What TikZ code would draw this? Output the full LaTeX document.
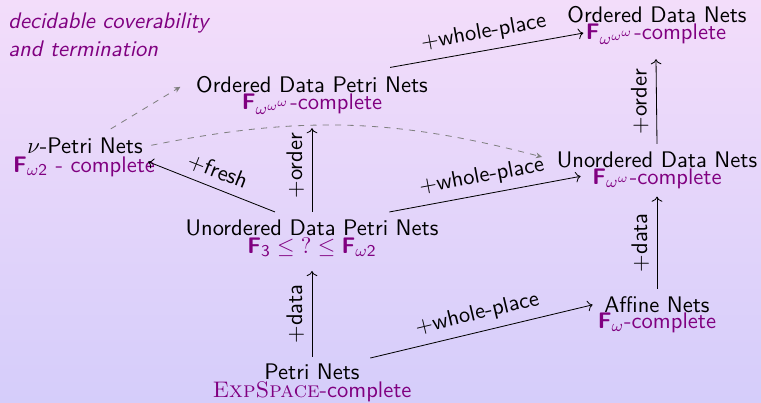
\documentclass[tikz,border=0pt,11pt]{standalone}
\usetikzlibrary{arrows.meta}
\definecolor{alertc}{RGB}{128,0,128}
\definecolor{bgtop}{RGB}{243,221,250}
\definecolor{bgbot}{RGB}{213,205,250}
\begin{document}
\begin{tikzpicture}[x=0.486pt, y=-0.486pt,
  every node/.style={font=\sffamily, inner sep=1pt},
  title/.style={anchor=base, text=black},
  cplx/.style={anchor=base, text=alertc},
  conn/.style={->, black},
  dconn/.style={-{Stealth[length=3pt,width=2.8pt]}, gray, dashed},
  lbl/.style={midway, above, sloped, inner sep=3.67pt},
  vlbl/.style={midway, anchor=south, rotate=90, inner sep=3.67pt}]
\shade[top color=bgtop, bottom color=bgbot] (0,0) rectangle (761,402);
\useasboundingbox (0,0) rectangle (761,402);

\node[anchor=north west, align=left, text=alertc, font=\sffamily\itshape, inner sep=0pt] (dec) at (8,12) {decidable coverability\\and termination};

\node[title] (odpnT) at (312,92) {Ordered Data Petri Nets};
\node[cplx] (odpnC) at (312,109) {\textbf{F}$_{\omega^{\omega^{\omega}}}$-complete};
\node[title] (odnT) at (657,22) {Ordered Data Nets};
\node[cplx] (odnC) at (656,39) {\textbf{F}$_{\omega^{\omega^{\omega}}}$-complete};
\node[title] (nuT) at (85,153) {$\nu$-Petri Nets};
\node[cplx] (nuC) at (84,172) {\textbf{F}$_{\omega\mathsf{2}}$ - complete};
\node[title] (udnT) at (657,167) {Unordered Data Nets};
\node[cplx] (udnC) at (657,184) {\textbf{F}$_{\omega^{\omega}}$-complete};
\node[title] (udpnT) at (312,235) {Unordered Data Petri Nets};
\node[cplx] (udpnC) at (312,253) {$\textbf{F}_{\mathsf{3}}\leq\mathsf{?}\leq\textbf{F}_{\omega\mathsf{2}}$};
\node[title] (affT) at (657,312) {Affine Nets};
\node[cplx] (affC) at (657,328) {\textbf{F}$_{\omega}$-complete};
\node[title] (pnT) at (312,379) {Petri Nets};
\node[cplx] (pnC) at (312,397) {\textrm{\textsc{ExpSpace}}-complete};

\draw[conn] ([yshift=1.9pt]pnT.north) -- node[vlbl]{$+$data} ([yshift=-5.9pt]udpnC.south);
\draw[conn] ([yshift=2.4pt]affT.north) -- node[vlbl]{$+$data} ([yshift=-2.8pt]udnC.south);
\draw[conn] ([yshift=2.4pt]udnT.north) -- node[vlbl]{$+$order} ([yshift=-5.8pt]odnC.south);
\draw[conn] ([yshift=2.4pt]udpnT.north) -- node[vlbl,pos=0.55]{$+$order} ([yshift=-5.3pt]odpnC.south);
\draw[conn] ([xshift=4pt,yshift=1.4pt]pnT.north east) -- node[lbl]{$+$whole-place} ([xshift=-4.5pt,yshift=-0.3pt]affT.west);
\draw[conn] ([xshift=-25pt,yshift=2.4pt]udpnT.north east) -- node[lbl]{$+$whole-place} ([xshift=-4.5pt,yshift=1pt]udnC.west);
\draw[conn] ([xshift=-19.5pt,yshift=2.9pt]odpnT.north east) -- node[lbl]{$+$whole-place} ([yshift=0.5pt]odnC.west);
\draw[conn] ([xshift=-18pt,yshift=2.4pt]udpnT.north) -- node[lbl]{$+$fresh} ([xshift=-4.5pt,yshift=2.25pt]nuC.east);
\draw[dconn] ([xshift=12.5pt,yshift=2.9pt]nuT.north) -- ([xshift=-6.5pt,yshift=-1.3pt]odpnT.west);
\draw[dconn] ([xshift=3pt]nuT.east) to[bend left=13] ([xshift=-6pt,yshift=1.2pt]udnT.west);
\end{tikzpicture}
\end{document}
